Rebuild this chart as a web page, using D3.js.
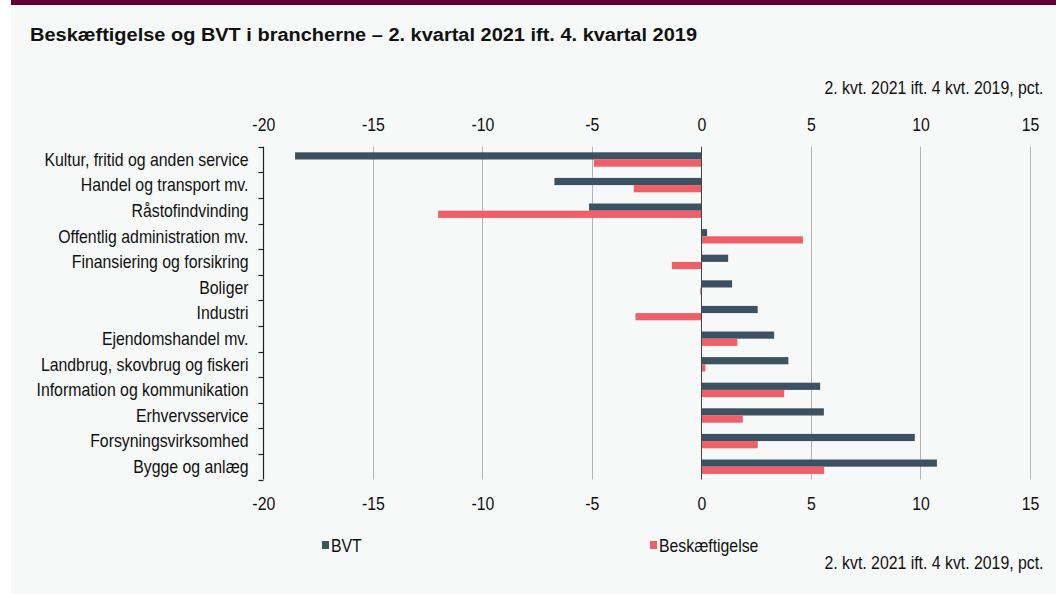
<!DOCTYPE html>
<html>
<head>
<meta charset="utf-8">
<script src="https://cdn.jsdelivr.net/npm/d3@7"></script>
<style>
  html, body { margin: 0; padding: 0; background: #ffffff; }
  svg { display: block; }
  text { font-family: "Liberation Sans", Arial, sans-serif; fill: #111; }
</style>
</head>
<body>
<script>
const categories = [
  "Kultur, fritid og anden service",
  "Handel og transport mv.",
  "Råstofindvinding",
  "Offentlig administration mv.",
  "Finansiering og forsikring",
  "Boliger",
  "Industri",
  "Ejendomshandel mv.",
  "Landbrug, skovbrug og fiskeri",
  "Information og kommunikation",
  "Erhvervsservice",
  "Forsyningsvirksomhed",
  "Bygge og anlæg"
];
const seriesNames = ["BVT", "Beskæftigelse"];
const bvt = [-18.55, -6.71, -5.13, 0.26, 1.22, 1.40, 2.57, 3.32, 3.97, 5.42, 5.59, 9.74, 10.75];
const beskaeftigelse = [-4.91, -3.09, -12.02, 4.63, -1.35, -0.05, -3.01, 1.64, 0.18, 3.78, 1.89, 2.57, 5.60];
const xTicks = [-20, -15, -10, -5, 0, 5, 10, 15];
const xTickLabels = ["-20", "-15", "-10", "-5", "0", "5", "10", "15"];
const title = "Beskæftigelse og BVT i brancherne – 2. kvartal 2021 ift. 4. kvartal 2019";
const unitNote = "2. kvt. 2021 ift. 4 kvt. 2019, pct.";

const W = 1056, H = 594;
const colors = { "BVT": "#3c5162", "Beskæftigelse": "#ef5f67" };
const SX = 0.88; // horizontal text compression
const FS = 18;

const svg = d3.select("body").append("svg").attr("width", W).attr("height", H);

// panel background and top band
svg.append("rect").attr("x", 11).attr("y", 0).attr("width", W - 11).attr("height", H).attr("fill", "#f7f8f8");
svg.append("rect").attr("x", 11).attr("y", 0).attr("width", W - 11).attr("height", 5).attr("fill", "#5e0031");

// title
svg.append("text").attr("x", 30).attr("y", 40.5)
  .attr("font-size", 17.5).attr("font-weight", "bold")
  .attr("textLength", 667).attr("lengthAdjust", "spacingAndGlyphs")
  .text(title);

const x = d3.scaleLinear().domain([-20, 15]).range([263.3, 1030]);
const y = d3.scaleBand().domain(categories).range([146.7, 479.5]).paddingInner(0).paddingOuter(0);
const ys = d3.scaleBand().domain(seriesNames).range([0, y.bandwidth()]).paddingInner(0).paddingOuter(0.78);

const yTop = y.range()[0], yBottom = y.range()[1];

// gridlines
svg.append("g").selectAll("line")
  .data(xTicks.filter(t => t !== -20 && t !== 0))
  .join("line")
  .attr("x1", d => Math.round(x(d)) + 0.5).attr("x2", d => Math.round(x(d)) + 0.5)
  .attr("y1", yTop).attr("y2", yBottom)
  .attr("stroke", "#b4b4b4").attr("stroke-width", 1);

// bars
const data = [];
categories.forEach((c, i) => {
  data.push({ cat: c, s: "BVT", v: bvt[i] });
  data.push({ cat: c, s: "Beskæftigelse", v: beskaeftigelse[i] });
});
svg.append("g").selectAll("rect")
  .data(data)
  .join("rect")
  .attr("x", d => Math.min(x(0), x(d.v)))
  .attr("width", d => Math.abs(x(d.v) - x(0)))
  .attr("y", d => y(d.cat) + ys(d.s))
  .attr("height", ys.bandwidth())
  .attr("fill", d => colors[d.s]);

// zero line
svg.append("line")
  .attr("x1", Math.round(x(0)) + 0.5).attr("x2", Math.round(x(0)) + 0.5)
  .attr("y1", yTop).attr("y2", yBottom)
  .attr("stroke", "#444").attr("stroke-width", 1);

// left axis line and band-boundary ticks
const axX = Math.round(x(-20)) + 0.5;
svg.append("line").attr("x1", axX).attr("x2", axX).attr("y1", yTop).attr("y2", yBottom)
  .attr("stroke", "#222").attr("stroke-width", 1.2);
const bounds = categories.map(c => y(c)).concat([yBottom]);
svg.append("g").selectAll("line").data(bounds).join("line")
  .attr("x1", axX - 5).attr("x2", axX)
  .attr("y1", d => Math.round(d) + 0.5).attr("y2", d => Math.round(d) + 0.5)
  .attr("stroke", "#222").attr("stroke-width", 1.2);

// category labels
const yAxis = svg.append("g").attr("transform", `translate(${axX},0)`)
  .call(d3.axisLeft(y).tickSize(0).tickPadding(0));
yAxis.select(".domain").remove();
yAxis.selectAll(".tick text")
  .attr("x", -15 / SX).attr("dy", "0.35em")
  .attr("font-size", FS).attr("font-family", '"Liberation Sans", Arial, sans-serif')
  .attr("fill", "#111")
  .attr("transform", `scale(${SX},1)`);

// top and bottom tick labels
const fmt = d => xTickLabels[xTicks.indexOf(d)];
function styleXAxis(g) {
  g.select(".domain").remove();
  g.selectAll(".tick line").remove();
  g.selectAll(".tick text")
    .attr("y", 0).attr("dy", 0)
    .attr("font-size", FS).attr("font-family", '"Liberation Sans", Arial, sans-serif')
    .attr("fill", "#111")
    .attr("transform", `scale(${SX},1)`);
}
svg.append("g").attr("transform", "translate(0,130.5)")
  .call(d3.axisTop(x).tickValues(xTicks).tickFormat(fmt).tickSize(0))
  .call(styleXAxis);
svg.append("g").attr("transform", "translate(0,510)")
  .call(d3.axisBottom(x).tickValues(xTicks).tickFormat(fmt).tickSize(0))
  .call(styleXAxis);

// unit notes
function note(yPos) {
  svg.append("text")
    .attr("transform", `translate(1043.5,${yPos}) scale(${SX},1)`)
    .attr("text-anchor", "end").attr("font-size", FS)
    .text(unitNote);
}
note(94);
note(569);

// legend
const legendPos = [{ s: "BVT", x: 322 }, { s: "Beskæftigelse", x: 650 }];
const lg = svg.append("g").selectAll("g").data(legendPos).join("g");
lg.append("rect").attr("x", d => d.x).attr("y", 541).attr("width", 7).attr("height", 8)
  .attr("fill", d => colors[d.s]);
lg.append("text")
  .attr("transform", d => `translate(${d.x + 9},552) scale(${SX},1)`)
  .attr("font-size", FS)
  .text(d => d.s);
</script>
</body>
</html>
